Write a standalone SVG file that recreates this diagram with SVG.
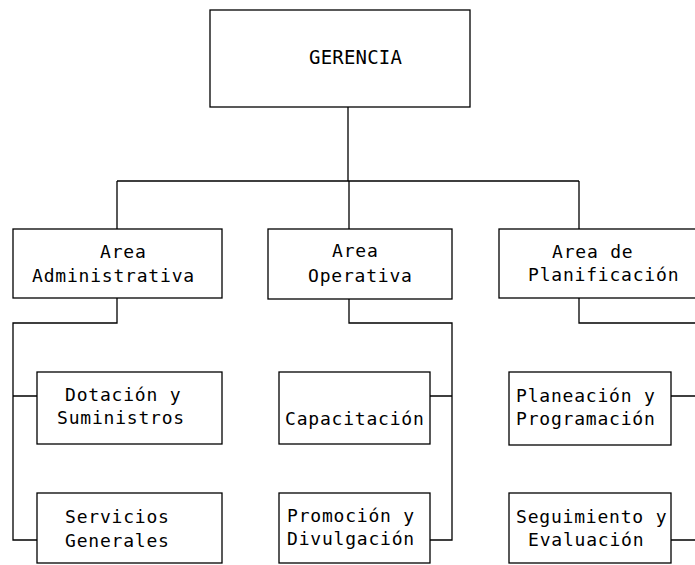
<svg xmlns="http://www.w3.org/2000/svg" width="695" height="565" viewBox="0 0 695 565">
<style>
.box{fill:#fff;stroke:#000;stroke-width:1.3}
.ln{fill:none;stroke:#000;stroke-width:1.3}
text{font-family:"DejaVu Sans Mono","Liberation Mono",monospace;font-size:18px;letter-spacing:0.8px;fill:#000}
.big{font-size:19px;letter-spacing:0.2px}
</style>
<rect width="695" height="565" fill="#fff"/>
<g id="connectors">
<path class="ln" d="M348,107 V181 M117,181 H579 M117,181 V229 M349,181 V229 M579,181 V229"/>
<path class="ln" d="M117,298 V323 H13 V540 H37 M13,396 H37"/>
<path class="ln" d="M349,299 V323 H452 V540 H430 M452,396 H430"/>
<path class="ln" d="M579,298 V323 H700 M671,396 H700 M671,540 H700"/>
</g>
<g id="gerencia">
<rect class="box" x="210" y="10" width="260" height="97"/>
<text class="big" x="309" y="64">GERENCIA</text>
</g>
<g id="area-administrativa">
<rect class="box" x="13" y="229" width="209" height="69"/>
<text x="100" y="258">Area</text>
<text x="32" y="282">Administrativa</text>
</g>
<g id="area-operativa">
<rect class="box" x="268" y="229" width="184" height="70"/>
<text x="332" y="257">Area</text>
<text x="308" y="282">Operativa</text>
</g>
<g id="area-planificacion">
<rect class="box" x="499" y="229" width="210" height="69"/>
<text x="552" y="258">Area de</text>
<text x="528" y="281">Planificación</text>
</g>
<g id="dotacion">
<rect class="box" x="37" y="372" width="185" height="72"/>
<text x="65" y="401">Dotación y</text>
<text x="57" y="424">Suministros</text>
</g>
<g id="servicios">
<rect class="box" x="37" y="493" width="185" height="70"/>
<text x="65" y="523">Servicios</text>
<text x="65" y="547">Generales</text>
</g>
<g id="capacitacion">
<rect class="box" x="279" y="372" width="151" height="72"/>
<text x="285" y="425">Capacitación</text>
</g>
<g id="promocion">
<rect class="box" x="279" y="493" width="151" height="70"/>
<text x="287" y="522">Promoción y</text>
<text x="287" y="545">Divulgación</text>
</g>
<g id="planeacion">
<rect class="box" x="509" y="372" width="162" height="73"/>
<text x="516" y="402">Planeación y</text>
<text x="516" y="425">Programación</text>
</g>
<g id="seguimiento">
<rect class="box" x="509" y="493" width="162" height="70"/>
<text x="516" y="523">Seguimiento y</text>
<text x="528" y="546">Evaluación</text>
</g>
</svg>
